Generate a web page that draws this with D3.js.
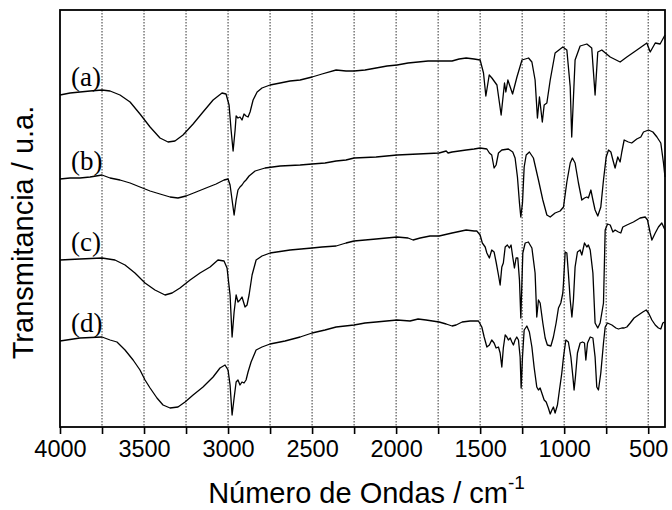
<html>
<head>
<meta charset="UTF-8">
<title>FTIR</title>
<script src="https://cdn.jsdelivr.net/npm/d3@7"></script>
<style>
  body { margin: 0; background: #fff; }
  .grid line { stroke: #333; stroke-width: 1; stroke-dasharray: 1.5,1.5; }
  .axis path { display: none; }
  .axis line { stroke: #000; stroke-width: 1.6px; }
  .axis text { font-family: "Liberation Sans", Arial, sans-serif; font-size: 23.5px; fill: #000; }
  .spec { fill: none; stroke: #000; stroke-width: 1.3px; stroke-linejoin: round; }
  .lab { font-family: "Liberation Serif", "Times New Roman", serif; font-size: 27px; }
  .title { font-family: "Liberation Sans", Arial, sans-serif; font-size: 29px; }
</style>
</head>
<body>
<svg width="672" height="510"></svg>
<script>
// tick values / categories
var majorTicks = [4000, 3500, 3000, 2500, 2000, 1500, 1000, 500];
var minorTicks = [3750, 3250, 2750, 2250, 1750, 1250, 750];
var gridTicks = [3750, 3500, 3250, 3000, 2750, 2500, 2250, 2000, 1750, 1500, 1250, 1000, 750, 500];
var labels = ['(a)', '(b)', '(c)', '(d)'];

// spectra: [wavenumber cm-1, transmittance (arb. units)]
var specA = [[4000,332],[3940,334],[3881,335],[3821,336],[3750,337],[3702,336],[3643,332],[3583,325],[3524,313],[3464,300],[3405,289],[3357,285],[3316,286],[3268,292],[3208,303],[3149,315],[3089,327],[3036,334],[3012,333],[2994,322],[2982,297],[2970,276],[2958,297],[2952,311],[2941,309],[2929,310],[2917,307],[2905,313],[2893,311],[2881,310],[2869,315],[2851,327],[2827,335],[2798,339],[2750,342],[2690,344],[2631,346],[2571,347],[2500,350],[2441,353],[2357,357],[2298,356],[2250,356],[2185,357],[2119,359],[2054,361],[1994,362],[1929,364],[1869,365],[1810,366],[1744,366],[1702,366],[1667,366],[1625,368],[1583,369],[1536,368],[1500,367],[1480,354],[1466,331],[1446,352],[1430,349],[1400,342],[1375,312],[1355,344],[1347,335],[1335,347],[1321,340],[1307,333],[1281,350],[1251,367],[1212,369],[1192,365],[1173,347],[1159,309],[1147,330],[1130,305],[1119,322],[1103,324],[1083,347],[1054,374],[1008,380],[984,377],[964,340],[955,290],[935,367],[905,381],[865,383],[836,379],[816,332],[800,375],[776,377],[726,370],[667,365],[627,370],[567,377],[508,384],[488,375],[458,384],[429,383],[400,392]];

var specB = [[4000,248],[3940,249],[3881,249],[3821,250],[3750,252],[3702,249],[3643,247],[3583,244],[3524,240],[3464,236],[3405,233],[3345,230],[3298,229],[3250,231],[3190,235],[3131,239],[3071,243],[3024,247],[3000,248],[2988,242],[2976,227],[2964,212],[2952,227],[2941,237],[2929,240],[2917,242],[2905,245],[2893,247],[2875,251],[2839,256],[2780,259],[2690,261],[2571,262],[2500,263],[2423,264],[2357,266],[2298,267],[2250,269],[2119,270],[1994,272],[1869,273],[1744,274],[1702,276],[1691,274],[1667,275],[1625,276],[1583,277],[1536,278],[1500,279],[1460,278],[1445,274],[1431,272],[1417,259],[1405,262],[1391,274],[1371,277],[1332,278],[1306,275],[1292,269],[1278,250],[1266,224],[1258,210],[1248,224],[1238,260],[1226,272],[1207,275],[1183,269],[1153,247],[1127,227],[1103,212],[1083,210],[1054,214],[1024,216],[1004,220],[984,245],[964,264],[951,269],[935,264],[915,244],[895,227],[879,229],[865,230],[856,229],[841,237],[829,227],[816,217],[800,211],[782,220],[766,247],[750,270],[736,277],[722,275],[710,267],[697,259],[681,270],[667,265],[657,275],[643,287],[618,285],[598,284],[568,288],[544,290],[528,295],[498,297],[472,295],[448,290],[425,284],[409,264],[400,250]];

var specC = [[4000,167],[3881,168],[3750,169],[3673,167],[3613,162],[3554,154],[3494,144],[3435,137],[3375,132],[3333,134],[3286,139],[3226,147],[3167,154],[3107,160],[3060,167],[3024,166],[3006,159],[2988,132],[2976,90],[2964,115],[2952,132],[2941,125],[2929,127],[2917,130],[2899,120],[2887,122],[2875,132],[2857,152],[2833,167],[2798,171],[2750,174],[2631,177],[2500,179],[2441,180],[2357,181],[2298,184],[2250,186],[2119,188],[1994,190],[1929,189],[1899,187],[1857,189],[1798,191],[1744,191],[1667,194],[1583,197],[1536,196],[1520,196],[1500,192],[1487,184],[1470,180],[1460,174],[1445,169],[1431,177],[1417,175],[1405,165],[1391,152],[1381,142],[1371,160],[1362,164],[1351,180],[1338,182],[1326,179],[1316,182],[1306,170],[1296,159],[1286,169],[1276,169],[1266,147],[1258,109],[1246,174],[1232,184],[1213,185],[1192,179],[1173,154],[1163,110],[1153,127],[1143,124],[1127,104],[1113,89],[1100,82],[1079,81],[1064,90],[1048,104],[1034,119],[1020,124],[1008,134],[1004,144],[994,175],[984,174],[975,154],[964,127],[954,110],[945,127],[935,160],[921,175],[905,177],[895,172],[879,184],[865,180],[856,182],[845,177],[829,154],[816,104],[800,99],[786,104],[766,124],[756,197],[742,203],[726,202],[710,195],[697,197],[677,195],[663,194],[651,200],[627,202],[588,205],[548,209],[518,210],[504,207],[488,194],[478,187],[458,194],[439,200],[419,204],[400,197]];

var specD = [[4000,86],[3881,89],[3750,90],[3702,87],[3661,85],[3613,77],[3565,67],[3524,57],[3494,47],[3464,39],[3423,29],[3387,22],[3345,19],[3298,20],[3256,25],[3208,32],[3149,40],[3089,50],[3048,59],[3018,62],[3000,57],[2988,42],[2976,12],[2964,29],[2952,45],[2941,47],[2929,42],[2917,45],[2905,44],[2893,47],[2881,55],[2863,65],[2833,77],[2798,80],[2750,83],[2661,86],[2571,90],[2500,94],[2423,97],[2357,100],[2250,102],[2185,104],[2119,105],[1994,107],[1917,106],[1869,108],[1822,107],[1744,105],[1702,103],[1667,101],[1643,102],[1607,105],[1560,106],[1510,106],[1490,100],[1476,90],[1460,80],[1445,82],[1431,87],[1417,84],[1405,79],[1391,80],[1381,74],[1371,60],[1362,79],[1351,92],[1341,90],[1332,87],[1321,89],[1311,85],[1302,82],[1292,87],[1282,90],[1272,87],[1262,70],[1256,39],[1248,70],[1238,97],[1222,101],[1207,95],[1192,80],[1179,60],[1163,40],[1153,37],[1143,39],[1133,34],[1119,27],[1107,25],[1094,19],[1083,13],[1073,17],[1064,20],[1054,14],[1040,22],[1028,37],[1014,54],[1004,70],[990,87],[975,85],[960,70],[948,50],[941,37],[933,50],[921,74],[905,84],[891,85],[879,84],[871,67],[861,84],[845,90],[829,89],[816,70],[806,40],[796,37],[782,54],[766,84],[756,100],[742,104],[716,102],[692,99],[677,98],[657,99],[643,99],[627,100],[607,104],[584,109],[558,112],[532,115],[512,117],[498,114],[478,107],[458,102],[439,99],[425,98],[413,104],[403,105]];

var series = [specA, specB, specC, specD];

var svg = d3.select('svg'),
    margin = { top: 10, right: 7, bottom: 83, left: 60 },
    width = +svg.attr('width') - margin.left - margin.right,
    height = +svg.attr('height') - margin.top - margin.bottom,
    g = svg.append('g').attr('transform', 'translate(' + margin.left + ',' + margin.top + ')');

var x = d3.scaleLinear().domain([4000, 400]).range([0, width]);
var y = d3.scaleLinear().domain([0, 417]).range([height, 0]);

// dotted vertical grid
g.append('g').attr('class', 'grid')
  .selectAll('line').data(gridTicks).enter().append('line')
    .attr('x1', d => x(d)).attr('x2', d => x(d))
    .attr('y1', 0).attr('y2', height);

// bottom axis, major + minor ticks
g.append('g').attr('class', 'axis')
  .attr('transform', 'translate(0,' + height + ')')
  .call(d3.axisBottom(x).tickValues(majorTicks).tickSize(7).tickPadding(6).tickFormat(d3.format('d')));
g.append('g').attr('class', 'axis')
  .attr('transform', 'translate(0,' + height + ')')
  .call(d3.axisBottom(x).tickValues(minorTicks).tickSize(7).tickFormat(''));

var line = d3.line().x(d => x(d[0])).y(d => y(d[1]));

g.selectAll('.spec').data(series).enter().append('path')
  .attr('class', 'spec')
  .attr('d', line);

g.selectAll('.lab').data(series).enter().append('text')
  .attr('class', 'lab')
  .attr('x', x(3935))
  .attr('y', d => y(d[0][1]) - 9)
  .text((d, i) => labels[i]);

// frame
g.append('rect')
  .attr('width', width).attr('height', height)
  .attr('fill', 'none').attr('stroke', '#000').attr('stroke-width', 1.8);

// titles
svg.append('text').attr('class', 'title')
  .attr('transform', 'translate(33,' + (margin.top + height / 2 + 14) + ') rotate(-90)')
  .attr('text-anchor', 'middle')
  .text('Transmitancia / u.a.');

var xt = svg.append('text').attr('class', 'title')
  .attr('x', margin.left + width / 2 + 4).attr('y', 503)
  .attr('text-anchor', 'middle');
xt.append('tspan').text('Número de Ondas / cm');
xt.append('tspan').attr('dy', -14).attr('font-size', 19).text('-1');
</script>
</body>
</html>
